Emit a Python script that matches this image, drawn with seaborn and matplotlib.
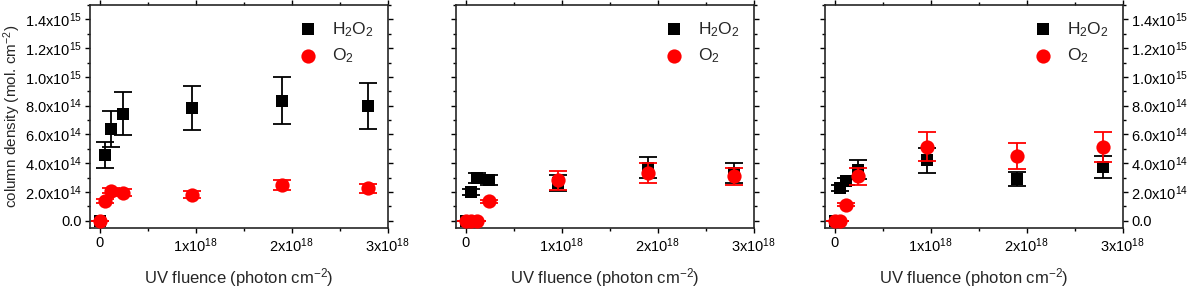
import numpy as np
import matplotlib
matplotlib.use("Agg")
import matplotlib.pyplot as plt
import seaborn as sns
from matplotlib.ticker import FuncFormatter, MultipleLocator

# fluence points (photon cm^-2), shared by the three panels
fluence = [0, 0.06e18, 0.12e18, 0.24e18, 0.96e18, 1.9e18, 2.8e18]

# column densities (mol. cm^-2)
h2o2_a = [0, 4.6e14, 6.35e14, 7.45e14, 7.85e14, 8.35e14, 8.0e14]
h2o2_a_err = [0, 0.9e14, 1.25e14, 1.5e14, 1.55e14, 1.65e14, 1.6e14]
o2_a = [0, 1.35e14, 2.1e14, 1.95e14, 1.8e14, 2.5e14, 2.25e14]
o2_a_err = [0, 0.15e14, 0.2e14, 0.25e14, 0.25e14, 0.35e14, 0.3e14]

h2o2_b = [0, 2.0e14, 3.0e14, 2.85e14, 2.65e14, 3.7e14, 3.3e14]
h2o2_b_err = [0, 0.2e14, 0.35e14, 0.35e14, 0.55e14, 0.75e14, 0.7e14]
o2_b = [0, 0, 0, 1.35e14, 2.8e14, 3.35e14, 3.1e14]
o2_b_err = [0, 0, 0, 0.1e14, 0.68e14, 0.7e14, 0.6e14]

h2o2_c = [0, 2.3e14, 2.75e14, 3.55e14, 4.2e14, 2.9e14, 3.75e14]
h2o2_c_err = [0, 0.2e14, 0.25e14, 0.65e14, 0.85e14, 0.5e14, 0.75e14]
o2_c = [0, 0, 1.13e14, 3.1e14, 5.15e14, 4.5e14, 5.15e14]
o2_c_err = [0, 0, 0.1e14, 0.6e14, 1.0e14, 0.9e14, 1.05e14]

panels = [
    (h2o2_a, h2o2_a_err, o2_a, o2_a_err),
    (h2o2_b, h2o2_b_err, o2_b, o2_b_err),
    (h2o2_c, h2o2_c_err, o2_c, o2_c_err),
]

sns.set_style("ticks")
plt.rcParams["font.family"] = ["Liberation Sans", "DejaVu Sans"]
plt.rcParams["mathtext.fontset"] = "custom"
plt.rcParams["mathtext.rm"] = "Liberation Sans"
plt.rcParams["mathtext.it"] = "Liberation Sans:italic"
plt.rcParams["mathtext.bf"] = "Liberation Sans:bold"


def fmt_y(v, pos):
    if abs(v) < 1e10:
        return "0.0"
    e = int(np.floor(np.log10(abs(v)) + 1e-9))
    return f"{v / 10**e:.1f}x10$^{{{e}}}$"


def fmt_x(v, pos):
    if abs(v) < 1e10:
        return "0"
    e = int(np.floor(np.log10(abs(v)) + 1e-9))
    return f"{v / 10**e:.0f}x10$^{{{e}}}$"


fig = plt.figure(figsize=(12, 2.93), dpi=100)
lefts = [0.075, 0.38, 0.6875]
axes = [fig.add_axes([l, 0.222, 0.248, 0.761]) for l in lefts]

for i, (ax, (h, he, o, oe)) in enumerate(zip(axes, panels)):
    ax.errorbar(fluence, h, yerr=he, fmt="none", ecolor="black",
                elinewidth=1.3, capsize=6.5, capthick=1.3, zorder=2)
    sns.scatterplot(x=fluence, y=h, ax=ax, marker="s", s=85, color="black",
                    edgecolor="black", linewidth=0, zorder=3, label="H$_2$O$_2$")
    ax.errorbar(fluence, o, yerr=oe, fmt="none", ecolor="red",
                elinewidth=1.3, capsize=6.5, capthick=1.3, zorder=4)
    sns.scatterplot(x=fluence, y=o, ax=ax, marker="o", s=105, color="red",
                    edgecolor="red", linewidth=0, zorder=5, label="O$_2$")

    ax.set_xlim(-0.1e18, 3.0e18)
    ax.set_ylim(-0.05e15, 1.5e15)
    ax.xaxis.set_major_locator(MultipleLocator(1e18))
    ax.xaxis.set_minor_locator(MultipleLocator(0.5e18))
    ax.yaxis.set_major_locator(MultipleLocator(0.2e15))
    ax.yaxis.set_minor_locator(MultipleLocator(0.1e15))
    ax.xaxis.set_major_formatter(FuncFormatter(fmt_x))
    ax.yaxis.set_major_formatter(FuncFormatter(fmt_y))

    for sp in ax.spines.values():
        sp.set_visible(True)
        sp.set_linewidth(1.2)
    ax.tick_params(which="both", direction="out", top=True, right=True,
                   bottom=True, left=True, width=1.0, labelsize=10.5,
                   colors="black", pad=2.5)
    ax.tick_params(which="major", length=3.5)
    ax.tick_params(which="minor", length=2.5)
    ax.tick_params(axis="y", labelleft=(i == 0), labelright=(i == 2))

    ax.set_xlabel("UV fluence (photon cm$^{-2}$)", fontsize=12, labelpad=8)
    ax.set_ylabel("")
    ax.legend(loc="upper right", bbox_to_anchor=(0.99, 0.98),
              frameon=False, fontsize=12.5, handletextpad=0.4,
              labelspacing=0.45, borderaxespad=0.2)

axes[0].set_ylabel("column density (mol. cm$^{-2}$)", fontsize=11)
axes[0].yaxis.set_label_coords(-0.225, 0.5)

fig.savefig("out.png", dpi=100)
